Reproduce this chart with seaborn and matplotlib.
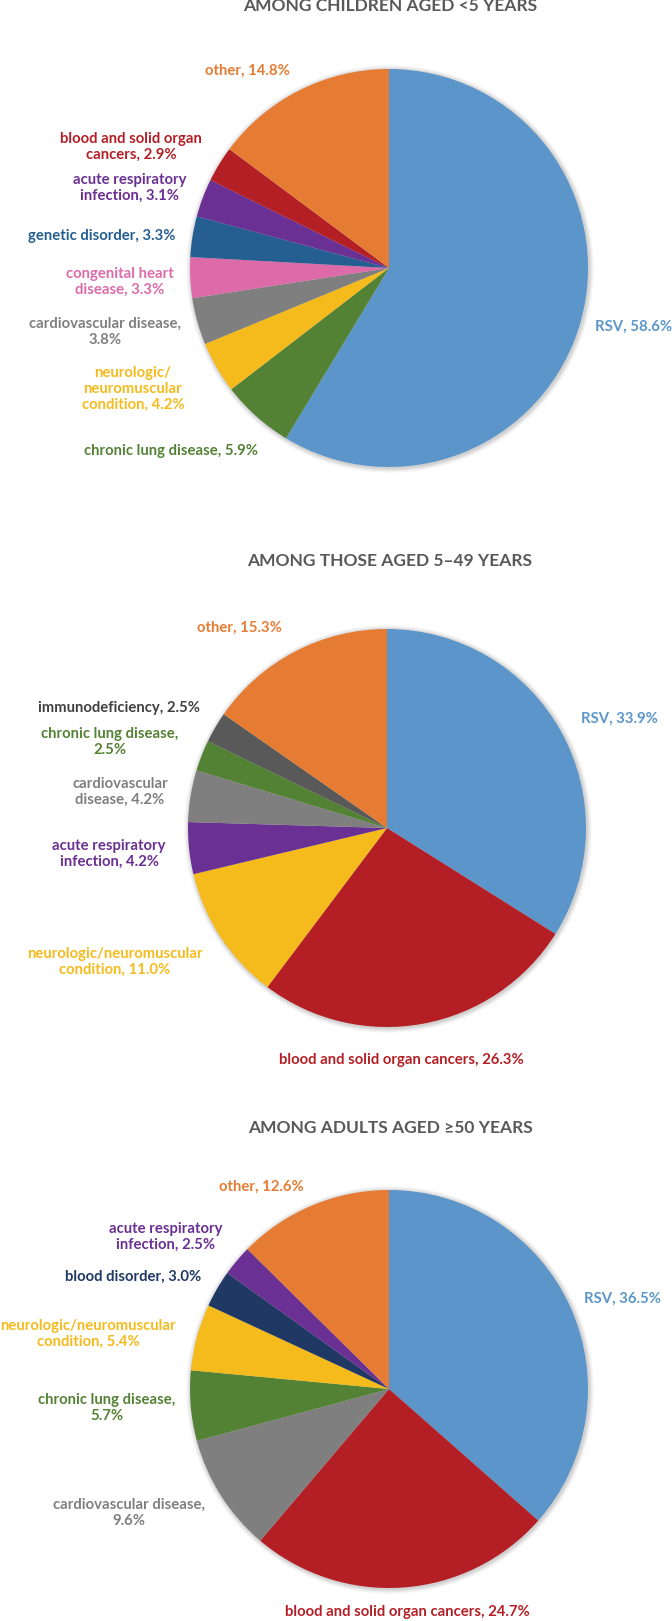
import matplotlib
matplotlib.use("Agg")
import matplotlib.pyplot as plt
import seaborn as sns
from matplotlib.patches import Circle

# data (clockwise from 12 o'clock)
kids_labels = ["RSV", "chronic lung disease", "neurologic/\nneuromuscular\ncondition",
               "cardiovascular disease,\n", "congenital heart\ndisease", "genetic disorder",
               "acute respiratory\ninfection", "blood and solid organ\ncancers", "other"]
kids_values = [58.6, 5.9, 4.2, 3.8, 3.3, 3.3, 3.1, 2.9, 14.8]
kids_colors = ["#5B95C9", "#548235", "#F5BA1C", "#7F7F7F", "#DD6BA9", "#255E91",
               "#6A3093", "#B41F25", "#E67C34"]

mid_labels = ["RSV", "blood and solid organ cancers", "neurologic/neuromuscular\ncondition",
              "acute respiratory\ninfection", "cardiovascular\ndisease",
              "chronic lung disease,\n", "immunodeficiency", "other"]
mid_values = [33.9, 26.3, 11.0, 4.2, 4.2, 2.5, 2.5, 15.3]
mid_colors = ["#5B95C9", "#B41F25", "#F5BA1C", "#6A3093", "#7F7F7F", "#548235",
              "#595959", "#E67C34"]

old_labels = ["RSV", "blood and solid organ cancers", "cardiovascular disease,\n",
              "chronic lung disease,\n", "neurologic/neuromuscular\ncondition",
              "blood disorder", "acute respiratory\ninfection", "other"]
old_values = [36.5, 24.7, 9.6, 5.7, 5.4, 3.0, 2.5, 12.6]
old_colors = ["#5B95C9", "#B41F25", "#7F7F7F", "#548235", "#F5BA1C", "#1F3864",
              "#6A3093", "#E67C34"]

titles = ["AMONG CHILDREN AGED <5 YEARS", "AMONG THOSE AGED 5\u201349 YEARS",
          "AMONG ADULTS AGED \u226550 YEARS"]

# layout in pixel space (y measured from top)
W, H = 672, 1621
centers = [(389, 268), (387, 828), (389, 1389)]
radius = 199
title_y = [6, 561, 1128]
kids_pos = [(634, 327), (171, 451), (133, 389), (105, 332), (120, 282), (102, 236),
            (130, 188), (131, 147), (247, 71)]
mid_pos = [(619, 719), (401, 1060), (115, 962), (109, 854), (120, 792), (110, 742),
           (119, 708), (239, 628)]
old_pos = [(623, 1299), (407, 1612), (129, 1513), (107, 1408), (88, 1334),
           (133, 1277), (166, 1237), (261, 1187)]

sns.set_theme(style="white")
plt.rcParams['font.family'] = ['Lato', 'DejaVu Sans']

fig = plt.figure(figsize=(W / 100, H / 100), dpi=100)
ax = fig.add_axes([0, 0, 1, 1])

def label_text(name, val):
    if name.endswith("\n"):
        return f"{name}{val:.1f}%"
    return f"{name}, {val:.1f}%"

panels = [(kids_labels, kids_values, kids_colors, kids_pos),
          (mid_labels, mid_values, mid_colors, mid_pos),
          (old_labels, old_values, old_colors, old_pos)]

for (labels, values, colors, pos), (cx, cy), title, ty in zip(panels, centers, titles, title_y):
    c = (cx, H - cy)
    # soft shadow around the pie
    for k, a in zip(range(5, 0, -1), [0.04, 0.06, 0.08, 0.10, 0.12]):
        ax.add_patch(Circle((c[0] + 1, c[1] - 1), radius + k, color="#7f7f7f",
                            alpha=a, lw=0, zorder=0))
    ax.pie(values, colors=colors, startangle=90, counterclock=False,
           center=c, radius=radius, wedgeprops=dict(linewidth=0))
    for name, val, col, (px, py) in zip(labels, values, colors, pos):
        tcol = col
        if col == "#595959":
            tcol = "#404040"
        ax.text(px, H - py, label_text(name, val), color=tcol, fontsize=10.7,
                fontweight="bold", ha="center", va="center", multialignment="center",
                linespacing=1.2)
    ax.text(390, H - ty, title, color="#595959", fontsize=12.5, fontweight="bold",
            ha="center", va="center")

ax.set_xlim(0, W)
ax.set_ylim(0, H)
ax.set_aspect("equal")
ax.axis("off")

fig.savefig("out.png", dpi=100, facecolor="white")
